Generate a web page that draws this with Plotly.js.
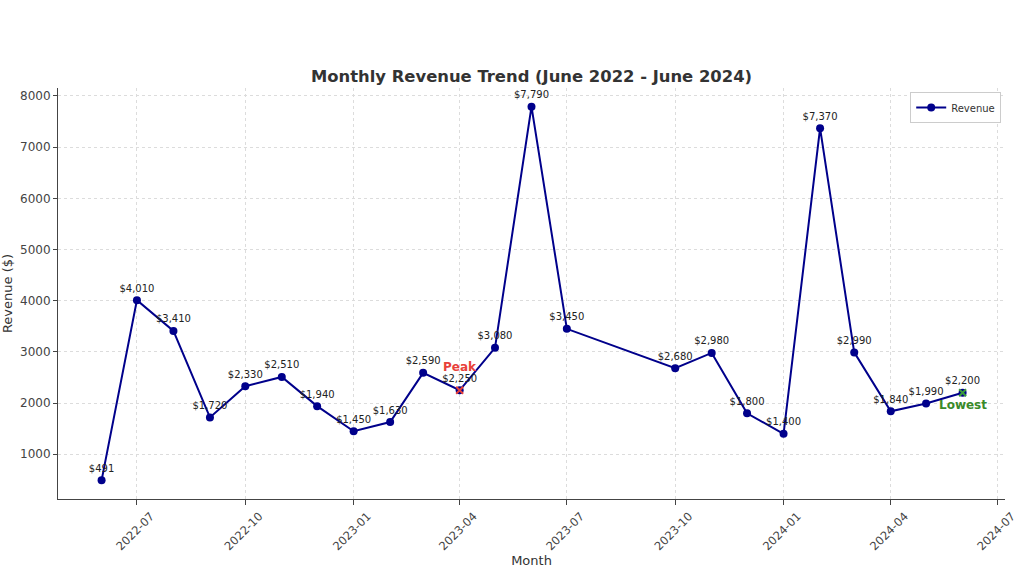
<!DOCTYPE html>
<html>
<head>
<meta charset="utf-8">
<script src="https://cdn.plot.ly/plotly-3.0.1.min.js"></script>
<style>html,body{margin:0;padding:0;background:#fff;}#chart{width:1024px;height:578px;}</style>
</head>
<body>
<div id="chart"></div>
<script>
const months = ['2022-06-01','2022-07-01','2022-08-01','2022-09-01','2022-10-01','2022-11-01','2022-12-01',
  '2023-01-01','2023-02-01','2023-03-01','2023-04-01','2023-05-01','2023-06-01','2023-07-01',
  '2023-10-01','2023-11-01','2023-12-01','2024-01-01','2024-02-01','2024-03-01','2024-04-01','2024-05-01','2024-06-01'];
const revenue = [491,4010,3410,1720,2330,2510,1940,1450,1630,2590,2250,3080,7790,3450,
  2680,2980,1800,1400,7370,2990,1840,1990,2200];
const peakIndex = 10;
const lowestIndex = 22;
const peakLabel = 'Peak';
const lowestLabel = 'Lowest';

const labels = revenue.map(v => '$' + v.toLocaleString('en-US'));
const FONT = 'DejaVu Sans, sans-serif';

const traces = [
  {
    x: months, y: revenue, type: 'scatter', mode: 'lines+markers+text',
    name: 'Revenue', text: labels, textposition: 'top center',
    textfont: {family: FONT, size: 10, color: '#222'},
    line: {color: '#00008b', width: 2},
    marker: {color: '#00008b', size: 8},
    cliponaxis: false
  },
  {
    x: [months[peakIndex]], y: [revenue[peakIndex]], type: 'scatter', mode: 'markers',
    showlegend: false, hoverinfo: 'skip',
    marker: {symbol: 'x-thin', size: 7, line: {color: '#e8413a', width: 2}}
  },
  {
    x: [months[lowestIndex]], y: [revenue[lowestIndex]], type: 'scatter', mode: 'markers',
    showlegend: false, hoverinfo: 'skip',
    marker: {symbol: 'x-thin', size: 7, line: {color: '#3a9a3a', width: 2}}
  }
];

const layout = {
  width: 1024, height: 578,
  margin: {l: 58, r: 19, t: 88, b: 79},
  paper_bgcolor: '#fff', plot_bgcolor: '#fff',
  font: {family: FONT, color: '#333'},
  title: {text: '<b>Monthly Revenue Trend (June 2022 - June 2024)</b>',
    font: {family: FONT, size: 16.4, color: '#333'},
    xref: 'paper', x: 0.5, xanchor: 'center', yref: 'container', y: 1 - 76/578, yanchor: 'middle'},
  xaxis: {
    type: 'date', range: ['2022-04-25', '2024-07-07'],
    dtick: 'M3', tick0: '2022-07-01', tickformat: '%Y-%m', tickangle: -45,
    ticklabelshift: 14,
    tickfont: {family: FONT, size: 11.5, color: '#444'},
    ticks: 'outside', ticklen: 5, tickcolor: '#444',
    showline: true, linecolor: '#444', linewidth: 1,
    showgrid: true, gridcolor: '#dcdcdc', griddash: 'dot', gridwidth: 1,
    zeroline: false,
    title: {text: 'Month', font: {family: FONT, size: 13, color: '#333'}, standoff: 2}
  },
  yaxis: {
    range: [126, 8155], dtick: 1000, tick0: 0,
    tickfont: {family: FONT, size: 12, color: '#444'},
    ticks: 'outside', ticklen: 4, tickcolor: '#444',
    showline: true, linecolor: '#444', linewidth: 1,
    showgrid: true, gridcolor: '#dcdcdc', griddash: 'dot', gridwidth: 1,
    zeroline: false,
    title: {text: 'Revenue ($)', font: {family: FONT, size: 13, color: '#333'}, standoff: 5}
  },
  legend: {
    x: 0.996, y: 0.99, xanchor: 'right', yanchor: 'top',
    bgcolor: '#fff', bordercolor: '#ccc', borderwidth: 1,
    font: {family: FONT, size: 10, color: '#333'}
  },
  annotations: [
    {x: months[peakIndex], y: revenue[peakIndex], xref: 'x', yref: 'y', text: '<b>' + peakLabel + '</b>',
     showarrow: false, yshift: 23, xshift: 0, font: {family: FONT, size: 12, color: '#e8413a'}},
    {x: months[lowestIndex], y: revenue[lowestIndex], xref: 'x', yref: 'y', text: '<b>' + lowestLabel + '</b>',
     showarrow: false, yshift: -12, xshift: 0, xanchor: 'center', font: {family: FONT, size: 12, color: '#3a8a2a'}}
  ],
  showlegend: true
};

Plotly.newPlot('chart', traces, layout, {displayModeBar: false, staticPlot: true});
</script>
</body>
</html>
